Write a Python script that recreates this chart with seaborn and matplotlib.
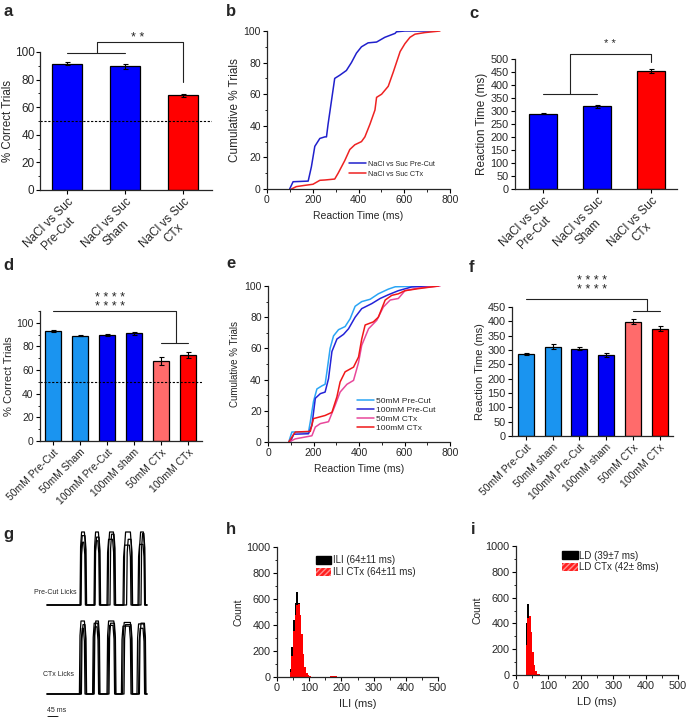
import numpy as np
import pandas as pd
import seaborn as sns
import matplotlib.pyplot as plt
import matplotlib.patches as mpatches
from matplotlib.ticker import MultipleLocator

sns.set_style("ticks")
plt.rcParams['font.family'] = ['Liberation Sans', 'DejaVu Sans']

# ---- data ----
# a / c : NaCl vs Suc
nacl_labels = ["NaCl vs Suc\nPre-Cut", "NaCl vs Suc\nSham", "NaCl vs Suc\nCTx"]
nacl_correct = [91.5, 89.5, 68.5]
nacl_correct_err = [1.0, 1.5, 0.8]
nacl_rt = [290, 318, 453]
nacl_rt_err = [3, 6, 7]
nacl_colors = ["#0000FF", "#0000FF", "#FF0000"]

# b : cumulative reaction time
b_precut_rt = [99, 114, 180, 194, 209, 231, 253, 260, 267, 282, 296, 318, 347, 369, 391, 413,
               442, 479, 515, 560, 566, 603, 720]
b_precut_cum = [0, 4.6, 5, 14, 27, 32, 33, 33, 41, 56, 70, 72, 75, 80, 86, 90,
                92.5, 93, 96, 98.5, 99.5, 100, 100]
b_ctx_rt = [107, 128, 165, 201, 231, 253, 296, 311, 340, 362, 384, 413, 428, 450, 472, 479,
            501, 530, 552, 582, 603, 625, 647, 690, 756]
b_ctx_cum = [0, 1.5, 2.3, 3, 5.5, 5.7, 6.3, 10, 18, 25, 28, 30, 33, 41, 50, 58,
             60, 65, 74, 87, 92, 96, 98, 99, 100]

# d / f : concentrations
conc_labels = ["50mM Pre-Cut", "50mM Sham", "100mM Pre-Cut", "100mM sham", "50mM CTx", "100mM CTx"]
conc_labels_f = ["50mM Pre-Cut", "50mM sham", "100mM Pre-Cut", "100mM sham", "50mM CTx", "100mM CTx"]
conc_correct = [93, 89, 89.5, 91, 67.5, 72.5]
conc_correct_err = [1.0, 0.5, 1.0, 1.0, 3.5, 2.5]
conc_rt = [285, 311, 305, 282, 399, 375]
conc_rt_err = [3, 9, 4, 6, 9, 8]
conc_colors = ["#1A94F0", "#1A94F0", "#0000F5", "#0000F5", "#FF6B6B", "#FF0000"]

# e : cumulative reaction time by concentration
e50_pre_rt = [91, 105, 178, 186, 200, 215, 237, 251, 259, 273, 288, 310, 339, 361, 383, 412,
              449, 485, 529, 559, 690]
e50_pre_cum = [0, 6.4, 6.4, 13, 26, 34, 36, 37, 45, 60, 68, 72, 74, 79, 87, 90,
               91.5, 95, 98, 99.5, 100]
e100_pre_rt = [98, 113, 178, 193, 208, 230, 251, 266, 281, 303, 332, 354, 383, 412, 456, 493,
               529, 573, 632, 749]
e100_pre_cum = [0, 5, 5.3, 10.7, 28, 31, 32, 40.6, 58, 66, 69, 72.6, 80, 85.5, 88.7, 92,
                94.4, 97, 99.4, 100]
e50_ctx_rt = [91, 120, 193, 208, 230, 266, 295, 317, 347, 376, 398, 412, 442, 478, 507, 537,
              573, 602, 661, 756]
e50_ctx_cum = [0, 2, 4, 9.6, 11.8, 13, 23.5, 32, 37, 39.5, 51, 62, 72.6, 78, 86.5, 91,
               92, 97, 98.7, 100]
e100_ctx_rt = [91, 120, 186, 200, 251, 281, 303, 317, 339, 376, 398, 412, 427, 463, 485, 515,
               544, 573, 602, 661, 749]
e100_ctx_cum = [0, 6.4, 6.8, 15, 17, 19, 29, 38.5, 45, 48, 54.5, 66, 75, 77, 80, 91,
                94, 95, 97, 98.3, 100]

# g : lick traces (onset / offset in ms, relative amplitude)
precut_on = [[165, 235, 305, 385, 460], [170, 238, 300, 380, 455], [168, 240, 315, 398, 470]]
precut_off = [[195, 265, 340, 425, 490], [192, 262, 336, 420, 488], [198, 268, 343, 428, 492]]
precut_amp = [[1.0, 1.0, 1.0, 1.0, 1.0], [0.86, 0.88, 0.9, 0.82, 0.83], [0.95, 0.93, 0.97, 0.9, 0.98]]
ctx_on = [[162, 228, 300, 378, 450], [168, 232, 305, 372, 458], [172, 236, 310, 385, 462]]
ctx_off = [[195, 262, 342, 425, 492], [190, 258, 338, 420, 488], [198, 265, 345, 428, 495]]
ctx_amp = [[1.0, 0.97, 1.0, 0.98, 0.96], [0.9, 0.92, 0.94, 0.93, 0.9], [0.95, 1.0, 0.97, 0.95, 0.97]]

# h : inter-lick interval histograms (5 ms bins starting at 35 ms)
ili_bin_start = 35
ili_counts = [0, 60, 230, 440, 570, 650, 570, 470, 320, 170, 75, 30, 12, 6, 3, 2, 1, 1, 0, 0,
              0, 0, 0, 1, 2, 3, 5, 7, 7, 5, 3, 2, 1, 1, 1, 1, 1, 0, 0]
ili_ctx_counts = [0, 40, 160, 350, 480, 550, 560, 480, 330, 175, 75, 30, 12, 6, 3, 2, 1, 1, 0, 0,
                  0, 0, 0, 1, 2, 3, 4, 6, 6, 4, 3, 2, 1, 1, 1, 0, 0, 0, 0]

# i : lick duration histograms (5 ms bins starting at 25 ms)
ld_bin_start = 25
ld_counts = [0, 400, 550, 330, 200, 95, 40, 15, 6, 3, 2, 1, 1, 1, 1, 1, 1, 1, 1, 1, 1, 1, 1, 1, 0, 0]
ld_ctx_counts = [0, 230, 440, 460, 330, 180, 80, 30, 10, 4, 2, 1, 1, 1, 1, 1, 1, 1, 1, 1, 0, 0, 0, 0, 0, 0]

# ---- figure ----
W, H = 687, 717
fig = plt.figure(figsize=(W / 100, H / 100), dpi=100)


def add_ax(l, t, r, b):
    return fig.add_axes([l / W, 1 - b / H, (r - l) / W, (b - t) / H])


def style(ax, size=7.5):
    sns.despine(ax=ax)
    for s in ['left', 'bottom']:
        ax.spines[s].set_linewidth(0.9)
    ax.tick_params(which='major', length=3, width=0.8, labelsize=size, pad=1.5, color='black')
    ax.tick_params(which='minor', length=1.8, width=0.6, color='black')


def bar_panel(ax, labels, vals, errs, colors, width):
    sns.barplot(x=labels, y=vals, hue=labels, palette=colors, legend=False, width=width,
                edgecolor='black', linewidth=0.9, saturation=1, errorbar=None, ax=ax)
    ax.errorbar(range(len(vals)), vals, yerr=errs, fmt='none', ecolor='black',
                elinewidth=0.8, capsize=1.8, capthick=0.8)
    ax.set_xlabel('')


def bracket(ax, xs, ys):
    ax.plot(xs, ys, color='#222222', lw=0.8, clip_on=False)


def letter(x, y, s):
    fig.text(x / W, 1 - y / H, s, fontsize=12, fontweight='bold', va='center', ha='left')


stars4 = '* * * *\n* * * *'

# a
ax = add_ax(40, 52, 212, 190)
bar_panel(ax, nacl_labels, nacl_correct, nacl_correct_err, nacl_colors, 0.52)
ax.axhline(50, color='black', lw=0.8, ls=(0, (2, 1.5)))
ax.set_ylim(0, 100)
ax.set_xlim(-0.47, 2.5)
ax.yaxis.set_major_locator(MultipleLocator(20))
ax.yaxis.set_minor_locator(MultipleLocator(10))
ax.set_ylabel('% Correct Trials', fontsize=8.3, labelpad=0.5)
style(ax, 8.5)
ax.tick_params(axis='y', pad=1)
ax.set_xticks(range(3))
ax.set_xticklabels(nacl_labels, rotation=45, ha='right', va='top', rotation_mode='anchor',
                   multialignment='center', fontsize=8.5)
bracket(ax, [0, 1], [99.5, 99.5])
bracket(ax, [0.52, 0.52, 2, 2], [99.5, 107, 107, 78])
ax.text(1.22, 110, '* *', ha='center', va='center', fontsize=9)
letter(3, 11, 'a')

# b
ax = add_ax(267, 31, 450, 189)
sns.lineplot(x=b_precut_rt, y=b_precut_cum, color='#2020CC', lw=1.1, sort=False, estimator=None,
             label='NaCl vs Suc Pre-Cut', ax=ax)
sns.lineplot(x=b_ctx_rt, y=b_ctx_cum, color='#EE2222', lw=1.1, sort=False, estimator=None,
             label='NaCl vs Suc CTx', ax=ax)
ax.set_xlim(0, 800)
ax.set_ylim(0, 100)
ax.xaxis.set_major_locator(MultipleLocator(200))
ax.xaxis.set_minor_locator(MultipleLocator(100))
ax.yaxis.set_major_locator(MultipleLocator(20))
ax.yaxis.set_minor_locator(MultipleLocator(10))
ax.set_xlabel('Reaction Time (ms)', fontsize=7.5, labelpad=4)
ax.set_ylabel('Cumulative % Trials', fontsize=8.5, labelpad=2)
style(ax)
ax.legend(loc='lower left', bbox_to_anchor=(0.45, 0.07), frameon=False, fontsize=5.2,
          handlelength=2.3, handletextpad=0.35, labelspacing=0.45, borderpad=0, borderaxespad=0)
letter(226, 11, 'b')

# c
ax = add_ax(515, 59, 677, 189)
bar_panel(ax, nacl_labels, nacl_rt, nacl_rt_err, nacl_colors, 0.51)
ax.set_ylim(0, 500)
ax.set_xlim(-0.52, 2.48)
ax.yaxis.set_major_locator(MultipleLocator(50))
ax.set_ylabel('Reaction Time (ms)', fontsize=8.5, labelpad=2)
style(ax, 7.8)
ax.set_xticks(range(3))
ax.set_xticklabels(nacl_labels, rotation=45, ha='right', va='top', rotation_mode='anchor',
                   multialignment='center', fontsize=8.5)
bracket(ax, [0, 1], [365, 365])
bracket(ax, [0.5, 0.5, 2, 2], [365, 519, 519, 489])
ax.text(1.24, 556, '* *', ha='center', va='center', fontsize=8)
letter(469, 13, 'c')

# d
ax = add_ax(40, 311, 202, 441)
bar_panel(ax, conc_labels, conc_correct, conc_correct_err, conc_colors, 0.6)
ax.axhline(50, color='black', lw=0.8, ls=(0, (2, 1.5)))
ax.set_ylim(0, 110)
ax.set_xlim(-0.48, 5.52)
ax.set_yticks([0, 20, 40, 60, 80, 100])
ax.yaxis.set_minor_locator(MultipleLocator(10))
ax.set_ylabel('% Correct Trials', fontsize=8, labelpad=2)
style(ax)
ax.set_xticks(range(6))
ax.set_xticklabels(conc_labels, rotation=45, ha='right', va='top', rotation_mode='anchor', fontsize=7.5)
bracket(ax, [0, 4.55, 4.55], [110, 110, 83])
bracket(ax, [4, 5], [83, 83])
ax.text(2.1, 108.5, stars4, ha='center', va='bottom', fontsize=9, linespacing=0.6)
letter(3, 266, 'd')

# e
ax = add_ax(268, 286, 450, 442)
for rt, cum, col, lab in [(e50_pre_rt, e50_pre_cum, '#2AA5F5', '50mM Pre-Cut'),
                          (e100_pre_rt, e100_pre_cum, '#2323D8', '100mM Pre-Cut'),
                          (e50_ctx_rt, e50_ctx_cum, '#E8489B', '50mM CTx'),
                          (e100_ctx_rt, e100_ctx_cum, '#F01818', '100mM CTx')]:
    sns.lineplot(x=rt, y=cum, color=col, lw=1.1, sort=False, estimator=None, label=lab, ax=ax)
ax.set_xlim(0, 800)
ax.set_ylim(0, 100)
ax.xaxis.set_major_locator(MultipleLocator(200))
ax.xaxis.set_minor_locator(MultipleLocator(100))
ax.yaxis.set_major_locator(MultipleLocator(20))
ax.yaxis.set_minor_locator(MultipleLocator(10))
ax.set_xlabel('Reaction Time (ms)', fontsize=7.5, labelpad=4)
ax.set_ylabel('Cumulative % Trials', fontsize=7, labelpad=3)
style(ax)
ax.legend(loc='lower left', bbox_to_anchor=(0.49, 0.065), frameon=False, fontsize=6,
          handlelength=2.0, handletextpad=0.25, labelspacing=0.15, borderpad=0, borderaxespad=0)
letter(226, 263, 'e')

# f
ax = add_ax(512, 307, 673, 436)
bar_panel(ax, conc_labels_f, conc_rt, conc_rt_err, conc_colors, 0.6)
ax.set_ylim(0, 450)
ax.set_xlim(-0.52, 5.5)
ax.yaxis.set_major_locator(MultipleLocator(50))
ax.set_ylabel('Reaction Time (ms)', fontsize=8, labelpad=2)
style(ax, 7.8)
ax.set_xticks(range(6))
ax.set_xticklabels(conc_labels_f, rotation=45, ha='right', va='top', rotation_mode='anchor', fontsize=7.5)
bracket(ax, [0, 4.53, 4.53], [478, 478, 436])
bracket(ax, [4, 5], [436, 436])
ax.text(2.47, 490, stars4, ha='center', va='bottom', fontsize=9, linespacing=0.6)
letter(469, 267, 'f')

# g
ax = add_ax(30, 525, 150, 717)
ax.set_xlim(-85, 515)
ax.set_ylim(0, 192 / 73)
ax.axis('off')


def trace(ons, offs, amps, base, end=500):
    xs, ys = [0], [base]
    for on, off, a in zip(ons, offs, amps):
        xs += [on, on + 3, on + 8, off - 8, off - 3, off]
        ys += [base, base + 0.8 * a, base + a, base + a, base + 0.8 * a, base]
    xs.append(end)
    ys.append(base)
    xs, ys = np.array(xs), np.array(ys)
    keep = xs <= end
    return xs[keep], ys[keep]


for group_on, group_off, group_amp, base in [(precut_on, precut_off, precut_amp, 112 / 73),
                                             (ctx_on, ctx_off, ctx_amp, 23 / 73)]:
    for ons, offs, amps in zip(group_on, group_off, group_amp):
        xs, ys = trace(ons, offs, amps, base)
        ax.plot(xs, ys, color='black', lw=0.9)
ax.text(-67, 125 / 73, 'Pre-Cut Licks', fontsize=5, va='center', ha='left')
ax.text(-22, 42 / 73, 'CTx Licks', fontsize=5, va='center', ha='left')
ax.text(0, 6 / 73, '45 ms', fontsize=5, va='center', ha='left')
ax.plot([5, 50], [0.2 / 73, 0.2 / 73], color='black', lw=2, clip_on=False)
letter(3, 535, 'g')


# h / i histograms
def hist_panel(ax, start, counts, ctx_counts, lab, ctx_lab, xlabel, anchor):
    edges = [start + 5 * k for k in range(len(counts) + 1)]
    df = pd.DataFrame({'t': [e + 2.5 for e in edges[:-1]], 'n': counts, 'n_ctx': ctx_counts})
    sns.histplot(data=df, x='t', weights='n', bins=edges, element='step', fill=True, color='black',
                 alpha=1, linewidth=0, ax=ax)
    sns.histplot(data=df, x='t', weights='n_ctx', bins=edges, element='step', fill=True, color='#FF0000',
                 alpha=1, linewidth=0, ax=ax)
    ax.set_xlim(0, 500)
    ax.set_ylim(0, 1000)
    ax.xaxis.set_major_locator(MultipleLocator(100))
    ax.xaxis.set_minor_locator(MultipleLocator(50))
    ax.yaxis.set_major_locator(MultipleLocator(200))
    ax.yaxis.set_minor_locator(MultipleLocator(100))
    ax.set_xlabel(xlabel, fontsize=8, labelpad=4)
    ax.set_ylabel('Count', fontsize=7.5, labelpad=2)
    style(ax, 7.8)
    handles = [mpatches.Patch(facecolor='black', edgecolor='black', label=lab),
               mpatches.Patch(facecolor='#FF2020', edgecolor='#FF9090', hatch='//////', lw=0, label=ctx_lab)]
    ax.legend(handles=handles, loc='upper left', bbox_to_anchor=anchor, frameon=False, fontsize=7,
              handlelength=1.6, handleheight=0.8, handletextpad=0.15, labelspacing=0.2,
              borderpad=0, borderaxespad=0)


ax = add_ax(277, 547, 438, 677)
hist_panel(ax, ili_bin_start, ili_counts, ili_ctx_counts, 'ILI (64±11 ms)', 'ILI CTx (64±11 ms)',
           'ILI (ms)', (0.24, 0.935))
letter(226, 530, 'h')

ax = add_ax(516, 546, 678, 675)
hist_panel(ax, ld_bin_start, ld_counts, ld_ctx_counts, 'LD (39±7 ms)', 'LD CTx (42± 8ms)',
           'LD (ms)', (0.284, 0.965))
letter(471, 530, 'i')

fig.savefig('out.png', dpi=100)
